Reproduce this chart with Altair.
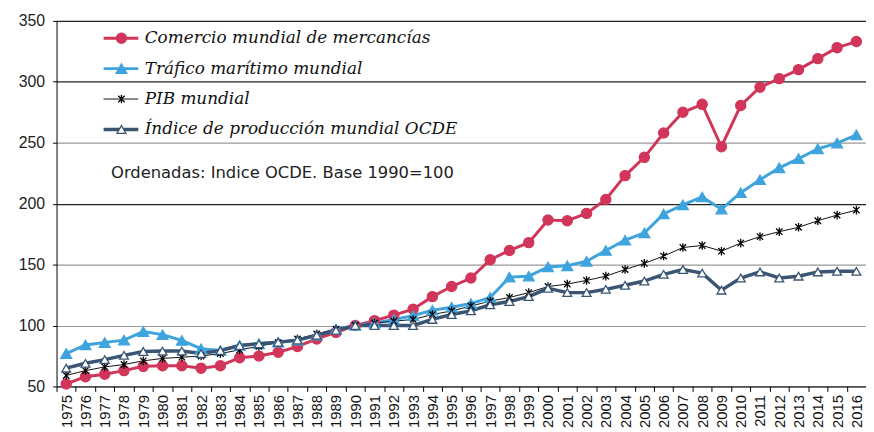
import altair as alt
import pandas as pd

years = [1975, 1976, 1977, 1978, 1979, 1980, 1981, 1982, 1983, 1984,
         1985, 1986, 1987, 1988, 1989, 1990, 1991, 1992, 1993, 1994,
         1995, 1996, 1997, 1998, 1999, 2000, 2001, 2002, 2003, 2004,
         2005, 2006, 2007, 2008, 2009, 2010, 2011, 2012, 2013, 2014,
         2015, 2016]

comercio = [52, 58, 60, 63, 66.5, 67, 67, 65, 67, 73.6,
            75, 78, 82.8, 89, 94.4, 100, 104, 108.5, 113.4, 123.7,
            132, 139, 154, 161.6, 168, 186.6, 186, 192, 203.4, 223,
            238, 258, 275, 281.5, 246.7, 280.6, 295.5, 302.6, 310, 319,
            328, 333]

trafico = [77, 84, 86, 88, 95, 92.5, 87.7, 81, 79.5, 83.6,
           85, 86.3, 88, 92, 97, 100, 102, 105, 108, 112.6,
           115, 118, 123, 139.7, 140.5, 148, 149, 152.7, 161.6, 170,
           176, 191.5, 199, 205.5, 195.5, 209, 219.6, 229.4, 237, 245,
           249.7, 256.5]

pib = [59, 63, 66, 68, 71, 73, 74, 75, 77, 80,
       83, 86, 89, 93, 97, 100, 102, 103.5, 105, 109,
       112, 116, 120, 123, 127, 132, 134, 137, 140.5, 146,
       151, 157, 164, 165.7, 161, 167.6, 173, 177, 180.6, 186,
       190.6, 194.7]

ocde = [65, 69, 72, 75.5, 78.7, 79, 79, 77, 79.5, 83.6,
        85, 86.3, 88, 92, 96, 100, 100, 100, 100, 105,
        109, 112, 117, 119.7, 123.7, 130.5, 127, 127, 129.7, 133,
        136.5, 142, 146, 143, 129, 139, 144, 139, 140.5, 144,
        144.5, 144.5]

series_names = ["Comercio mundial de  mercancías",
                "Tráfico marítimo mundial",
                "PIB mundial",
                "Índice de producción mundial OCDE"]
keys = ["a", "b", "c", "d"]
y_ticks = [50, 100, 150, 200, 250, 300, 350]
note = "Ordenadas: Indice OCDE. Base 1990=100"

line_colors = ["#D1365A", "#3FA4DD", "#111111", "#3A5573"]
line_widths = [3, 3, 1, 3.5]
point_fills = ["#D1365A", "#3FA4DD", "transparent", "#ffffff"]
point_strokes = ["#D1365A", "#3FA4DD", "#000000", "#3A5573"]
asterisk = "M-0.75,-0.75L0.75,0.75M-0.75,0.75L0.75,-0.75M0,-1L0,1"
shapes = ["circle", "triangle-up", asterisk, "triangle-up"]
sizes = [105, 120, 75, 80]

rows = []
for name, key, vals in zip(series_names, keys, [comercio, trafico, pib, ocde]):
    for yr, v in zip(years, vals):
        rows.append({"year": str(yr), "serie": name, "k": key, "value": v})
df = pd.DataFrame(rows)

x = alt.X("year:O", title=None, bandPosition=0.5,
          scale=alt.Scale(type="band", paddingInner=0, paddingOuter=0),
          axis=alt.Axis(labelAngle=-90, tickBand="extent", tickSize=5,
                        tickColor="#000", domainColor="#000",
                        labelFont="Liberation Sans", labelFontSize=15,
                        labelColor="#111", labelPadding=3))
y = alt.Y("value:Q", title=None,
          scale=alt.Scale(domain=[50, 350], nice=False, zero=False),
          axis=alt.Axis(values=y_ticks, tickSize=4, tickColor="#000",
                        domainColor="#000", labelFont="Liberation Sans",
                        labelFontSize=16, labelColor="#222", labelPadding=8,
                        gridColor={"condition": {"test": "datum.value == 200 || datum.value == 300 || datum.value == 350",
                                                 "value": "#222"},
                                   "value": "#999"},
                        gridWidth=1.2))

legend_common = dict(orient="none", title=None, labelFont="DejaVu Serif",
                     labelFontStyle="italic", labelFontSize=17, labelLimit=600,
                     rowPadding=12.7, padding=0, symbolOpacity=1)

line_legend = alt.Legend(legendX=56.5, legendY=9, labelOpacity=0,
                         symbolType="M-3.5,0L3.5,0", symbolSize=100,
                         **legend_common)
point_legend = alt.Legend(legendX=57, legendY=9, labelColor="#111",
                          labelOffset=15, symbolStrokeWidth=1.3,
                          **legend_common)

base = alt.Chart(df)

lines = base.mark_line().encode(
    x=x, y=y,
    color=alt.Color("k:N", scale=alt.Scale(type="ordinal", domain=keys, range=line_colors), legend=line_legend),
    strokeWidth=alt.StrokeWidth("k:N", scale=alt.Scale(type="ordinal", domain=keys, range=line_widths), legend=line_legend),
)

points = base.mark_point(opacity=1, strokeWidth=1.3).encode(
    x=x, y=y,
    shape=alt.Shape("serie:N", scale=alt.Scale(type="ordinal", domain=series_names, range=shapes), legend=point_legend),
    fill=alt.Fill("serie:N", scale=alt.Scale(type="ordinal", domain=series_names, range=point_fills), legend=point_legend),
    stroke=alt.Stroke("serie:N", scale=alt.Scale(type="ordinal", domain=series_names, range=point_strokes), legend=point_legend),
    size=alt.Size("serie:N", scale=alt.Scale(type="ordinal", domain=series_names, range=sizes), legend=point_legend),
)

text = alt.Chart(pd.DataFrame({"t": [note]})).mark_text(
    align="left", baseline="middle", font="DejaVu Sans", fontSize=16.5, color="#222"
).encode(text="t:N", x=alt.value(55), y=alt.value(154))

chart = alt.layer(lines, points, text).properties(
    width=817, height=369,
    padding={"left": 49, "top": 11, "right": 0, "bottom": 44},
    autosize=alt.AutoSizeParams(type="none"),
).configure_view(stroke=None)

chart.save("out.html", embed_options={"renderer": "svg", "actions": False})
